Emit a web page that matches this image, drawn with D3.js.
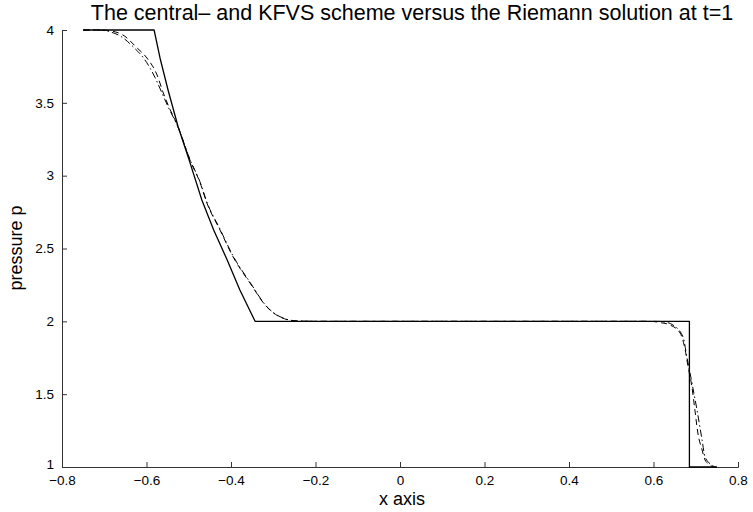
<!DOCTYPE html>
<html><head><meta charset="utf-8">
<script src="https://cdn.jsdelivr.net/npm/d3@7/dist/d3.min.js"></script>
<style>
body{margin:0;background:#fff;}
text{font-family:"Liberation Sans",Arial,Helvetica,sans-serif;fill:#000;}
</style></head>
<body><svg id="c" width="753" height="512"></svg>
<script>
const title = "The central\u2013 and KFVS scheme versus the Riemann solution at t=1";
const xLabel = "x axis";
const yLabel = "pressure p";
const xTicks = [-0.8,-0.6,-0.4,-0.2,0,0.2,0.4,0.6,0.8];
const yTicks = [1,1.5,2,2.5,3,3.5,4];

// Exact Riemann solution
const exactX = [-0.75,-0.582,-0.568,-0.549,-0.525,-0.499,-0.469,-0.441,-0.409,-0.379,-0.343,0.685,0.685,0.75];
const exactP = [4,4,3.808,3.588,3.334,3.107,2.833,2.627,2.421,2.215,2.0,2.0,1.0,1.0];

// Central scheme (dashed)
const centralX = [-0.75,-0.71,-0.693,-0.656,-0.622,-0.599,-0.575,-0.561,-0.549,-0.525,-0.497,-0.473,-0.457,-0.426,-0.395,-0.355,-0.315,-0.284,-0.244,-0.189,0.592,0.615,0.639,0.663,0.675,0.682,0.691,0.698,0.705,0.715,0.722,0.734,0.743,0.75];
const centralP = [4,4,3.997,3.966,3.876,3.808,3.691,3.574,3.486,3.334,3.107,2.95,2.812,2.627,2.442,2.263,2.098,2.03,2.002,2.0,2.0,1.992,1.975,1.92,1.803,1.686,1.549,1.391,1.233,1.117,1.048,1.014,1.0,1.0];

// KFVS scheme (dash-dot)
const kfvsX = [-0.75,-0.715,-0.69,-0.66,-0.63,-0.605,-0.58,-0.563,-0.55,-0.525,-0.497,-0.473,-0.457,-0.426,-0.395,-0.355,-0.315,-0.284,-0.244,-0.189,0.605,0.627,0.646,0.67,0.679,0.691,0.703,0.715,0.722,0.738,0.748,0.75];
const kfvsP = [4,4,3.99,3.955,3.88,3.8,3.675,3.565,3.48,3.33,3.11,2.955,2.818,2.633,2.448,2.268,2.1,2.032,2.003,2.0,2.0,1.995,1.975,1.892,1.755,1.577,1.391,1.185,1.069,1.014,1.0,1.0];

const svg = d3.select("#c");
const L = 62, R = 738, T = 30, B = 467;
const x = d3.scaleLinear().domain([-0.8,0.8]).range([L,R]);
const y = d3.scaleLinear().domain([1,4]).range([B,T]);

const fmt = d => (d<0 ? "\u2212" : "") + Math.abs(d).toString();

const xAxis = svg.append("g").attr("transform",`translate(0,${B})`)
  .call(d3.axisBottom(x).tickValues(xTicks).tickSize(-5).tickPadding(8).tickFormat(fmt));
const yAxis = svg.append("g").attr("transform",`translate(${L},0)`)
  .call(d3.axisLeft(y).tickValues(yTicks).tickSize(-5).tickPadding(8).tickFormat(fmt));
[xAxis,yAxis].forEach(a=>{
  a.select(".domain").attr("stroke","#333").attr("stroke-width",1);
  a.selectAll(".tick line").attr("stroke","#333");
  a.selectAll(".tick text").attr("font-size",13.5).attr("font-family","'Liberation Sans',Arial,sans-serif").attr("fill","#000");
});
yAxis.selectAll(".tick text").attr("dy","0.32em");
yAxis.selectAll(".tick").filter(d=>d===1).select("text").attr("dy","0.1em");

const mk = (xs,ps)=>xs.map((v,i)=>[v,ps[i]]);
const lineLin = d3.line().x(d=>x(d[0])).y(d=>y(d[1]));
const lineSm = d3.line().x(d=>x(d[0])).y(d=>y(d[1])).curve(d3.curveMonotoneX);

svg.append("path").attr("d",lineSm(mk(kfvsX,kfvsP))).attr("fill","none")
  .attr("stroke","#000").attr("stroke-width",1).attr("stroke-dasharray","7,3,1.5,3");
svg.append("path").attr("d",lineSm(mk(centralX,centralP))).attr("fill","none")
  .attr("stroke","#000").attr("stroke-width",1).attr("stroke-dasharray","6,4");
svg.append("path").attr("d",lineLin(mk(exactX,exactP))).attr("fill","none")
  .attr("stroke","#000").attr("stroke-width",1.3).attr("stroke-linejoin","round");

svg.append("text").attr("x",412).attr("y",20).attr("text-anchor","middle")
  .attr("font-size",21.5).text(title);
svg.append("text").attr("x",402).attr("y",505).attr("text-anchor","middle")
  .attr("font-size",18).text(xLabel);
svg.append("text").attr("transform","translate(22,248) rotate(-90)").attr("text-anchor","middle")
  .attr("font-size",18).text(yLabel);
</script></body></html>
